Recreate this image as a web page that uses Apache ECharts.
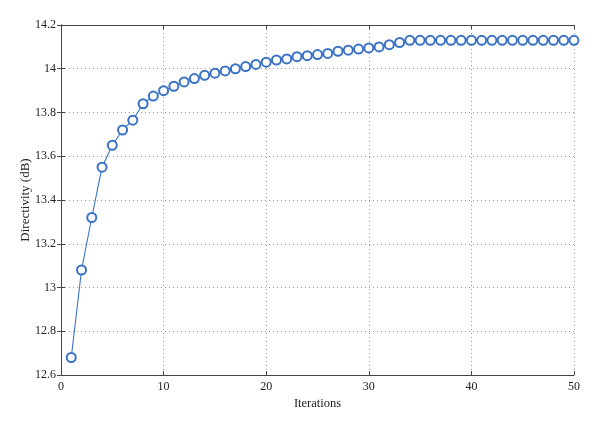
<!DOCTYPE html>
<html><head><meta charset="utf-8">
<script src="https://cdn.jsdelivr.net/npm/echarts@6/dist/echarts.min.js"></script>
<style>html,body{margin:0;padding:0;background:#fff}#c{width:600px;height:425px}</style>
</head><body><div id="c"></div>
<script>
const iterations = [1,2,3,4,5,6,7,8,9,10,11,12,13,14,15,16,17,18,19,20,21,22,23,24,25,26,27,28,29,30,31,32,33,34,35,36,37,38,39,40,41,42,43,44,45,46,47,48,49,50];
const directivity = [12.68,13.08,13.32,13.55,13.65,13.72,13.765,13.84,13.875,13.90,13.92,13.94,13.955,13.97,13.98,13.99,14.00,14.01,14.02,14.03,14.04,14.045,14.055,14.06,14.065,14.07,14.08,14.085,14.09,14.095,14.10,14.11,14.12,14.13,14.13,14.13,14.13,14.13,14.13,14.13,14.13,14.13,14.13,14.13,14.13,14.13,14.13,14.13,14.13,14.13];
const xTicks = [0,10,20,30,40,50];
const yTicks = [12.6,12.8,13,13.2,13.4,13.6,13.8,14,14.2];

const font = '"Liberation Serif", "DejaVu Serif", serif';
const axisCol = '#444';
const chart = echarts.init(document.getElementById('c'), null, {renderer:'canvas'});
const common = {
  axisLine:{show:true,lineStyle:{color:axisCol,width:1}},
  axisTick:{show:true,inside:true,length:4,lineStyle:{color:axisCol}},
};
chart.setOption({
  animation:false,
  textStyle:{fontFamily:font},
  grid:{left:61,right:26,top:25,bottom:50},
  xAxis:[{
    type:'value',min:0,max:50,interval:10,
    ...common,
    axisLabel:{color:'#222',fontFamily:font,fontSize:12,margin:6,formatter:v=>String(v)},
    splitLine:{show:true,lineStyle:{color:'#999',type:[1,3],width:1}},
    name:'Iterations',nameLocation:'middle',nameGap:22,nameMoveOverlap:false,
    nameTextStyle:{color:'#222',fontFamily:font,fontSize:12.5}
  },{
    type:'value',min:0,max:50,interval:10,position:'top',
    ...common,axisLabel:{show:false},splitLine:{show:false}
  }],
  yAxis:[{
    type:'value',min:12.6,max:14.2,interval:0.2,
    ...common,
    axisLabel:{color:'#222',fontFamily:font,fontSize:12,margin:5,formatter:v=>String(Math.round(v*10)/10)},
    splitLine:{show:true,lineStyle:{color:'#999',type:[1,3],width:1}},
    name:'Directivity (dB)',nameLocation:'middle',nameGap:29,nameRotate:90,nameMoveOverlap:false,
    nameTextStyle:{color:'#222',fontFamily:font,fontSize:13}
  },{
    type:'value',min:12.6,max:14.2,interval:0.2,position:'right',
    ...common,axisLabel:{show:false},splitLine:{show:false}
  }],
  series:[{
    type:'line',
    data:iterations.map((x,i)=>[x,directivity[i]]),
    symbol:'emptyCircle',symbolSize:9,
    lineStyle:{color:'#3a72c4',width:1.1},
    itemStyle:{color:'#3a72c4',borderColor:'#3a72c4',borderWidth:1.1},
    clip:false
  }]
});
</script></body></html>
